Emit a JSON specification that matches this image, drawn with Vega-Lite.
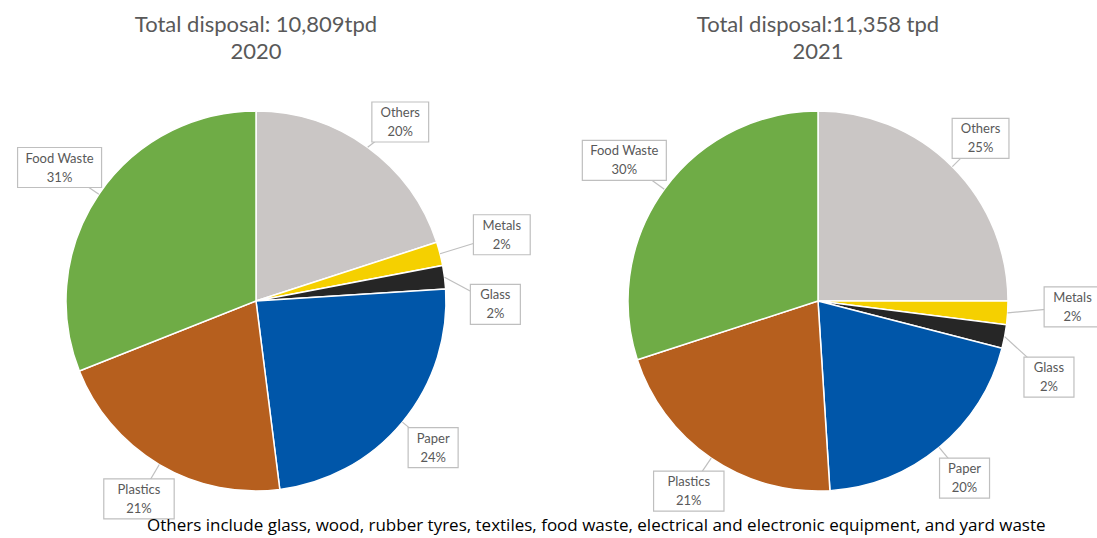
{
  "$schema": "https://vega.github.io/schema/vega-lite/v6.json",
  "background": "white",
  "padding": {"top": 14, "left": 5, "right": 5, "bottom": 0},
  "bounds": "flush",
  "datasets": {
    "waste": [
      {"year": 2020, "Material": "Others", "pct": 20},
      {"year": 2020, "Material": "Metals", "pct": 2},
      {"year": 2020, "Material": "Glass", "pct": 2},
      {"year": 2020, "Material": "Paper", "pct": 24},
      {"year": 2020, "Material": "Plastics", "pct": 21},
      {"year": 2020, "Material": "Food Waste", "pct": 31},
      {"year": 2021, "Material": "Others", "pct": 25},
      {"year": 2021, "Material": "Metals", "pct": 2},
      {"year": 2021, "Material": "Glass", "pct": 2},
      {"year": 2021, "Material": "Paper", "pct": 20},
      {"year": 2021, "Material": "Plastics", "pct": 21},
      {"year": 2021, "Material": "Food Waste", "pct": 30}
    ]
  },
  "title": {
    "text": "Others include glass, wood, rubber tyres, textiles, food waste, electrical and electronic equipment, and yard waste",
    "orient": "bottom",
    "anchor": "middle",
    "dx": 43,
    "offset": -1,
    "font": "Open Sans",
    "fontSize": 17,
    "fontWeight": "normal",
    "color": "#000000"
  },
  "spacing": 60,
  "hconcat": [
    {
      "width": 502,
      "height": 420,
      "title": {"text": ["Total disposal: 10,809tpd", "2020"], "font": "Lato", "fontSize": 22, "fontWeight": "normal", "color": "#595959", "lineHeight": 27, "offset": 27},
      "data": {"name": "waste"},
      "transform": [
        {"filter": "datum.year == 2020"},
        {"window": [{"op": "row_number", "as": "idx"}]},
        {"window": [{"op": "sum", "field": "pct", "as": "cum"}], "sort": [{"field": "idx"}], "frame": [null, 0]},
        {"calculate": "(datum.cum - datum.pct / 2) / 100 * 2 * PI", "as": "mid"},
        {"calculate": "datum.mid + (datum.Material == 'Metals' ? -0.012 : datum.Material == 'Glass' ? 0.14 : datum.Material == 'Others' ? 0.05 : 0)", "as": "la"},
        {"calculate": "datum.Material == 'Metals' ? 1.34 : datum.Material == 'Glass' ? 1.26 : datum.Material == 'Food Waste' ? 1.25 : 1.21", "as": "lr"},
        {"calculate": "sin(datum.mid)", "as": "ex"},
        {"calculate": "cos(datum.mid)", "as": "ey"},
        {"calculate": "datum.lr * sin(datum.la)", "as": "lx"},
        {"calculate": "datum.lr * cos(datum.la)", "as": "ly"},
        {"calculate": "(length(datum.Material) * 6.8 + 16) / 2 / 190", "as": "hw"},
        {"calculate": "datum.lx - datum.hw", "as": "bx1"},
        {"calculate": "datum.lx + datum.hw", "as": "bx2"},
        {"calculate": "datum.ly - 20 / 190", "as": "by1"},
        {"calculate": "datum.ly + 20 / 190", "as": "by2"},
        {"calculate": "[datum.Material, datum.pct + '%']", "as": "lab"}
      ],
      "layer": [
        {
          "mark": {"type": "arc", "outerRadius": 190, "stroke": "white", "strokeWidth": 1.5},
          "encoding": {
            "theta": {"field": "pct", "type": "quantitative", "stack": true},
            "order": {"field": "idx", "type": "quantitative"},
            "color": {"field": "Material", "type": "nominal", "legend": null,
              "scale": {"domain": ["Others", "Metals", "Glass", "Paper", "Plastics", "Food Waste"],
                        "range": ["#CAC6C5", "#F5D000", "#262626", "#0056A9", "#B65F1E", "#6FAC46"]}}
          }
        },
        {
          "mark": {"type": "rule", "color": "#BFBFBF", "strokeWidth": 1.2},
          "encoding": {
            "x": {"field": "ex", "type": "quantitative", "axis": null, "scale": {"domain": [-1.3211, 1.3211]}},
            "y": {"field": "ey", "type": "quantitative", "axis": null, "scale": {"domain": [-1.1053, 1.1053]}},
            "x2": {"field": "lx"},
            "y2": {"field": "ly"}
          }
        },
        {
          "mark": {"type": "rect", "fill": "white", "stroke": "#BFBFBF", "strokeWidth": 1.2},
          "encoding": {
            "x": {"field": "bx1", "type": "quantitative", "axis": null, "scale": {"domain": [-1.3211, 1.3211]}},
            "x2": {"field": "bx2"},
            "y": {"field": "by1", "type": "quantitative", "axis": null, "scale": {"domain": [-1.1053, 1.1053]}},
            "y2": {"field": "by2"}
          }
        },
        {
          "mark": {"type": "text", "font": "Lato", "fontSize": 13, "color": "#595959", "lineHeight": 19, "baseline": "middle", "dy": -9},
          "encoding": {
            "x": {"field": "lx", "type": "quantitative", "axis": null, "scale": {"domain": [-1.3211, 1.3211]}},
            "y": {"field": "ly", "type": "quantitative", "axis": null, "scale": {"domain": [-1.1053, 1.1053]}},
            "text": {"field": "lab"}
          }
        }
      ]
    },
    {
      "width": 502,
      "height": 420,
      "title": {"text": ["Total disposal:11,358 tpd", "2021"], "font": "Lato", "fontSize": 22, "fontWeight": "normal", "color": "#595959", "lineHeight": 27, "offset": 27},
      "data": {"name": "waste"},
      "transform": [
        {"filter": "datum.year == 2021"},
        {"window": [{"op": "row_number", "as": "idx"}]},
        {"window": [{"op": "sum", "field": "pct", "as": "cum"}], "sort": [{"field": "idx"}], "frame": [null, 0]},
        {"calculate": "(datum.cum - datum.pct / 2) / 100 * 2 * PI", "as": "mid"},
        {"calculate": "datum.mid + (datum.Material == 'Metals' ? -0.04 : datum.Material == 'Glass' ? 0.13 : 0)", "as": "la"},
        {"calculate": "datum.Material == 'Metals' ? 1.34 : datum.Material == 'Glass' ? 1.28 : datum.Material == 'Food Waste' ? 1.26 : 1.21", "as": "lr"},
        {"calculate": "sin(datum.mid)", "as": "ex"},
        {"calculate": "cos(datum.mid)", "as": "ey"},
        {"calculate": "datum.lr * sin(datum.la)", "as": "lx"},
        {"calculate": "datum.lr * cos(datum.la)", "as": "ly"},
        {"calculate": "(length(datum.Material) * 6.8 + 16) / 2 / 190", "as": "hw"},
        {"calculate": "datum.lx - datum.hw", "as": "bx1"},
        {"calculate": "datum.lx + datum.hw", "as": "bx2"},
        {"calculate": "datum.ly - 20 / 190", "as": "by1"},
        {"calculate": "datum.ly + 20 / 190", "as": "by2"},
        {"calculate": "[datum.Material, datum.pct + '%']", "as": "lab"}
      ],
      "layer": [
        {
          "mark": {"type": "arc", "outerRadius": 190, "stroke": "white", "strokeWidth": 1.5},
          "encoding": {
            "theta": {"field": "pct", "type": "quantitative", "stack": true},
            "order": {"field": "idx", "type": "quantitative"},
            "color": {"field": "Material", "type": "nominal", "legend": null,
              "scale": {"domain": ["Others", "Metals", "Glass", "Paper", "Plastics", "Food Waste"],
                        "range": ["#CAC6C5", "#F5D000", "#262626", "#0056A9", "#B65F1E", "#6FAC46"]}}
          }
        },
        {
          "mark": {"type": "rule", "color": "#BFBFBF", "strokeWidth": 1.2},
          "encoding": {
            "x": {"field": "ex", "type": "quantitative", "axis": null, "scale": {"domain": [-1.3211, 1.3211]}},
            "y": {"field": "ey", "type": "quantitative", "axis": null, "scale": {"domain": [-1.1053, 1.1053]}},
            "x2": {"field": "lx"},
            "y2": {"field": "ly"}
          }
        },
        {
          "mark": {"type": "rect", "fill": "white", "stroke": "#BFBFBF", "strokeWidth": 1.2},
          "encoding": {
            "x": {"field": "bx1", "type": "quantitative", "axis": null, "scale": {"domain": [-1.3211, 1.3211]}},
            "x2": {"field": "bx2"},
            "y": {"field": "by1", "type": "quantitative", "axis": null, "scale": {"domain": [-1.1053, 1.1053]}},
            "y2": {"field": "by2"}
          }
        },
        {
          "mark": {"type": "text", "font": "Lato", "fontSize": 13, "color": "#595959", "lineHeight": 19, "baseline": "middle", "dy": -9},
          "encoding": {
            "x": {"field": "lx", "type": "quantitative", "axis": null, "scale": {"domain": [-1.3211, 1.3211]}},
            "y": {"field": "ly", "type": "quantitative", "axis": null, "scale": {"domain": [-1.1053, 1.1053]}},
            "text": {"field": "lab"}
          }
        }
      ]
    }
  ],
  "config": {"view": {"stroke": null}}
}
